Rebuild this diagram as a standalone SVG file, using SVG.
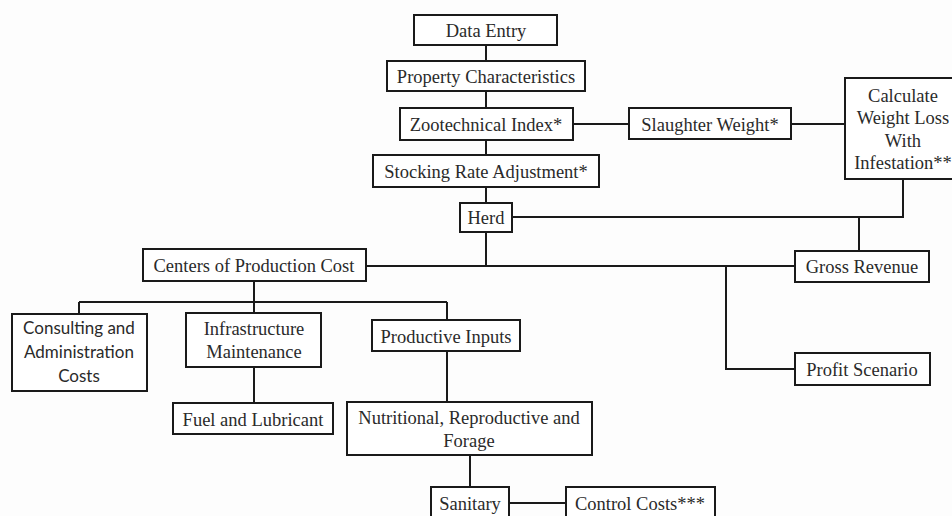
<svg xmlns="http://www.w3.org/2000/svg" width="952" height="516" viewBox="0 0 952 516">
<style>
.b{fill:#fff;stroke:#1a1a1a;stroke-width:2}
.t{font-family:"Liberation Serif","Times New Roman",serif;font-size:18.5px;fill:#2a2a2a;text-anchor:middle}
.s{font-family:Lato,"Open Sans",sans-serif;font-size:17px;fill:#2a2a2a;text-anchor:middle}
.c{fill:none;stroke:#1a1a1a;stroke-width:2}
</style>
<rect width="952" height="516" fill="#fdfdfd"/>
<g id="connectors">
<path class="c" d="M486 45V61M486 91V108M486 140V155M486 187V203M486 232V266"/>
<path class="c" d="M573 124H629M791 124H845"/>
<path class="c" d="M903 179V217H512M859 217V251"/>
<path class="c" d="M366 266H795M726 266V369H795"/>
<path class="c" d="M254 281V302M79 302H447M79 302V314M254 302V313M447 302V320"/>
<path class="c" d="M254 367V403M447 351V402M470 455V487M509 503H566"/>
</g>
<g id="data-entry"><rect class="b" x="414" y="15" width="143" height="30"/><text class="t" x="486" y="37">Data Entry</text></g>
<g id="property"><rect class="b" x="387" y="61" width="198" height="30"/><text class="t" x="486" y="83">Property Characteristics</text></g>
<g id="zootechnical"><rect class="b" x="400" y="108" width="173" height="32"/><text class="t" x="486" y="131">Zootechnical Index*</text></g>
<g id="stocking"><rect class="b" x="373" y="155" width="226" height="32"/><text class="t" x="486" y="178">Stocking Rate Adjustment*</text></g>
<g id="herd"><rect class="b" x="460" y="203" width="52" height="29"/><text class="t" x="486" y="224">Herd</text></g>
<g id="slaughter"><rect class="b" x="629" y="108" width="162" height="31"/><text class="t" x="710" y="131">Slaughter Weight*</text></g>
<g id="calculate"><rect class="b" x="845" y="78" width="112" height="101"/>
<text class="t" x="903" y="102">Calculate</text><text class="t" x="903" y="124">Weight Loss</text><text class="t" x="903" y="147">With</text><text class="t" x="903" y="169">Infestation**</text></g>
<g id="gross"><rect class="b" x="795" y="251" width="134" height="31"/><text class="t" x="862" y="273">Gross Revenue</text></g>
<g id="profit"><rect class="b" x="795" y="353" width="135" height="32"/><text class="t" x="862" y="376">Profit Scenario</text></g>
<g id="centers"><rect class="b" x="143" y="249" width="223" height="32"/><text class="t" x="254" y="272">Centers of Production Cost</text></g>
<g id="consulting"><rect class="b" x="12" y="314" width="135" height="77"/>
<text class="s" x="79" y="334">Consulting and</text><text class="s" x="79" y="358">Administration</text><text class="s" x="79" y="382">Costs</text></g>
<g id="infrastructure"><rect class="b" x="186" y="313" width="135" height="54"/>
<text class="t" x="254" y="335">Infrastructure</text><text class="t" x="254" y="358">Maintenance</text></g>
<g id="productive"><rect class="b" x="372" y="320" width="148" height="31"/><text class="t" x="446" y="343">Productive Inputs</text></g>
<g id="fuel"><rect class="b" x="173" y="403" width="160" height="31"/><text class="t" x="253" y="426">Fuel and Lubricant</text></g>
<g id="nutritional"><rect class="b" x="347" y="402" width="245" height="53"/>
<text class="t" x="469" y="424">Nutritional, Reproductive and</text><text class="t" x="469" y="447">Forage</text></g>
<g id="sanitary"><rect class="b" x="431" y="487" width="78" height="32"/><text class="t" x="470" y="510">Sanitary</text></g>
<g id="control"><rect class="b" x="566" y="487" width="149" height="32"/><text class="t" x="640" y="510">Control Costs***</text></g>
</svg>
